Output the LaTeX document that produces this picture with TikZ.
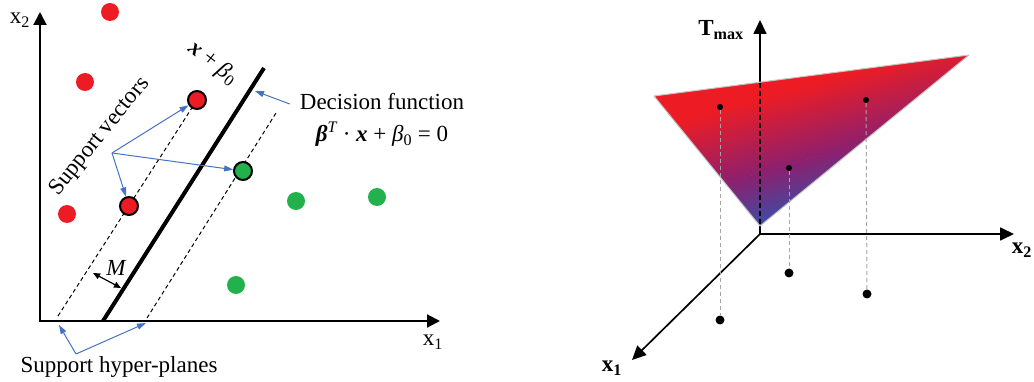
\documentclass[tikz,border=0pt]{standalone}
\usepackage{fontspec}
\setmainfont{Liberation Serif}
\usetikzlibrary{arrows.meta}
\definecolor{dotred}{RGB}{237,28,36}
\definecolor{dotgreen}{RGB}{34,177,76}
\definecolor{arrowblue}{RGB}{68,114,196}
\definecolor{planered}{RGB}{237,28,36}
\definecolor{planeblue}{RGB}{60,76,166}
\definecolor{planepurple}{RGB}{140,32,110}
\definecolor{guidegray}{RGB}{165,165,165}
\definecolor{edgegray}{RGB}{195,195,195}
\begin{document}
\begin{tikzpicture}[x=1pt,y=-1pt,
  every node/.style={font=\fontsize{23}{27}\selectfont, inner sep=0pt},
  dot/.style={circle,inner sep=0pt,minimum size=18pt},
  reddot/.style={dot,fill=dotred},
  greendot/.style={dot,fill=dotgreen},
  svdot/.style={dot,draw=black,line width=2pt},
  axisline/.style={line width=2pt},
  hyperplane/.style={line width=1pt,dash pattern=on 4pt off 3pt},
  bluearrow/.style={draw=arrowblue,line width=1pt,-{Triangle[length=9pt,width=6pt]}},
  raxis/.style={line width=1.7pt,-{Triangle[length=14pt,width=13pt]}},
  guide/.style={draw=guidegray,line width=1pt,dash pattern=on 4pt off 3pt},
  smalldot/.style={circle,fill=black,inner sep=0pt,minimum size=6pt},
  basedot/.style={circle,fill=black,inner sep=0pt,minimum size=9pt}
]
\useasboundingbox (0,0) rectangle (1034,382);

% ---------------- Left panel ----------------
\coordinate (O) at (40,321);
\coordinate (Ytip) at (40,12);
\coordinate (Xtip) at (440,321);
\draw[axisline,{Triangle[length=13pt,width=13pt]}-{Triangle[length=13pt,width=13pt]}] (Ytip) -- (O) -- (Xtip);
\node (lx2) at (20,20) {x\textsubscript{2}};
\node (lx1) at (433,342) {x\textsubscript{1}};

% support vector centres
\coordinate (svAc) at (197,100);
\coordinate (svBc) at (129,206);
\coordinate (svGc) at (243,171);

% hyperplanes
\coordinate (D1) at (103,321);
\coordinate (D2) at (264,68);
\draw[line width=4pt] (D1) -- (D2);
\coordinate (H1) at (58,316);
\draw[hyperplane] (H1) -- (svAc);
\coordinate (H2a) at (147,318);
\coordinate (H2b) at (276,113);
\draw[hyperplane] (H2a) -- (H2b);

% dots
\node[reddot] (r1) at (110,12) {};
\node[reddot] (r2) at (85,82) {};
\node[reddot] (r3) at (67,214) {};
\node[svdot,fill=dotred] (svA) at (svAc) {};
\node[svdot,fill=dotred] (svB) at (svBc) {};
\node[svdot,fill=dotgreen] (svG) at (svGc) {};
\node[greendot] (g1) at (296,201) {};
\node[greendot] (g2) at (377,197) {};
\node[greendot] (g3) at (236,285) {};

% labels
\node[rotate=-38] (lineLab) at (213,63) {{\bfseries\itshape x} + {\itshape β}\textsubscript{0}};
\node[rotate=51] (svLab) at (100,137) {Support vectors};
\coordinate (svSrc) at (112,153);
\draw[bluearrow] (svSrc) -- (svA);
\draw[bluearrow] (svSrc) -- (svB);
\draw[bluearrow] (svSrc) -- (svG);

\node (df) at (382,102) {Decision function};
\node (eq) at (382,134) {{\bfseries\itshape β}\textsuperscript{\itshape T} · {\bfseries\itshape x} + {\itshape β}\textsubscript{0} = 0};
\coordinate (dfTip) at (255,91);
\draw[bluearrow] ([xshift=-10pt,yshift=-2pt]df.west) -- (dfTip);

\coordinate (Ma) at (93,273);
\coordinate (Mb) at (121,288);
\draw[line width=1.2pt,{Triangle[length=7pt,width=6pt]}-{Triangle[length=7pt,width=6pt]}] (Ma) -- (Mb);
\node (Mlab) at (116,268) {\itshape M};

\node (shp) at (119,367) {Support hyper-planes};
\coordinate (shpSrc) at (76,354);
\coordinate (hA) at (59,325);
\coordinate (hB) at (146,323);
\draw[bluearrow] (shpSrc) -- (hA);
\draw[bluearrow] (shpSrc) -- (hB);

% ---------------- Right panel ----------------
\coordinate (R0) at (760,234);
\coordinate (Ttip) at (760,20);
\coordinate (X2tip) at (1014,234);
\coordinate (X1tip) at (632,360);
\draw[raxis] (R0) -- (Ttip);
\draw[raxis] (R0) -- (X2tip);
\draw[raxis] (R0) -- (X1tip);

\coordinate (P1) at (654,96);
\coordinate (P2) at (969,55);
\coordinate (P3) at (760,226);
\begin{scope}
  \clip (P1) -- (P2) -- (P3) -- cycle;
  \begin{scope}[transform canvas={rotate around={16:(800,150)}}]
    \fill[planered] (450,-150) rectangle (1150,89.3);
    \shade[top color=planered,bottom color=planepurple] (450,88.8) rectangle (1150,161.2);
    \fill[planeblue] (450,211.5) rectangle (1150,450);
    \shade[top color=planepurple,bottom color=planeblue] (450,160.9) rectangle (1150,212);
  \end{scope}
\end{scope}
\draw[edgegray,line width=1pt,line join=round] (P1) -- (P2) -- (P3) -- cycle;
\coordinate (Tin) at (760,83);
\coordinate (Tout) at (760,224);
\draw[line width=1.7pt,dash pattern=on 5pt off 3pt] (Tin) -- (Tout);

\node[smalldot] (u1) at (720,107) {};
\node[smalldot] (u2) at (789,168) {};
\node[smalldot] (u3) at (866,100) {};
\node[basedot] (b1) at (720,320) {};
\node[basedot] (b2) at (789,273) {};
\node[basedot] (b3) at (867,294) {};
\draw[guide] (u1) -- (b1);
\draw[guide] (u2) -- (b2);
\draw[guide] (u3) -- (b3);

\node (Tlab) at (721,30) {\bfseries T\textsubscript{max}};
\node (rx2) at (1022,250) {\bfseries x\textsubscript{2}};
\node (rx1) at (612,368) {\bfseries x\textsubscript{1}};
\end{tikzpicture}
\end{document}
